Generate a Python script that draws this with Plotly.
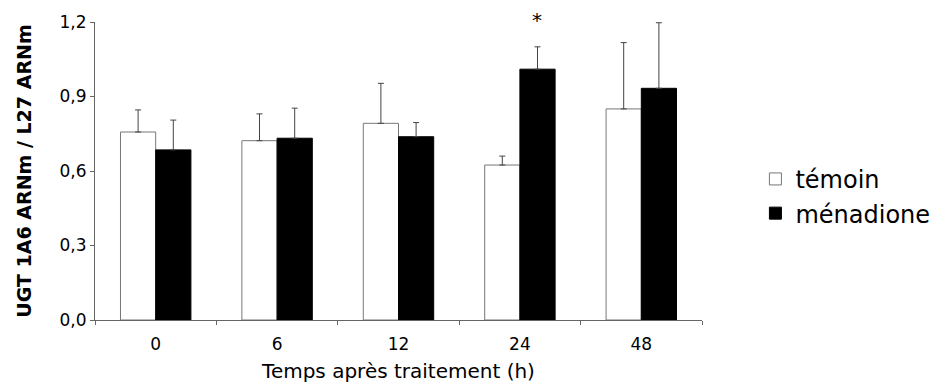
import plotly.graph_objects as go

categories = ["0", "6", "12", "24", "48"]
temoin = [0.757, 0.722, 0.792, 0.624, 0.850]
temoin_err = [0.089, 0.108, 0.161, 0.036, 0.267]
menadione = [0.685, 0.732, 0.738, 1.010, 0.933]
menadione_err = [0.120, 0.121, 0.057, 0.090, 0.264]

FONT = "DejaVu Sans, Arial, sans-serif"

fig = go.Figure()
fig.add_trace(go.Bar(
    x=categories, y=temoin, name="témoin",
    marker=dict(color="white", line=dict(color="#777", width=1)),
    error_y=dict(type="data", array=temoin_err, symmetric=False, arrayminus=[0]*5,
                 color="#444", thickness=1, width=3),
))
fig.add_trace(go.Bar(
    x=categories, y=menadione, name="ménadione",
    marker=dict(color="black", line=dict(color="black", width=1)),
    error_y=dict(type="data", array=menadione_err, symmetric=False, arrayminus=[0]*5,
                 color="#444", thickness=1, width=3),
))

fig.add_annotation(x=categories.index("24"), xref="x", y=1.0, yref="paper",
                   yanchor="middle", yshift=2, text="*", showarrow=False, xshift=17,
                   font=dict(size=20, color="black", family=FONT))

fig.update_layout(
    width=950, height=392,
    margin=dict(l=87, r=256, t=14, b=80),
    plot_bgcolor="white", paper_bgcolor="white",
    barmode="group", bargap=0.42, bargroupgap=0,
    separators=",.",
    font=dict(family=FONT, size=17, color="black"),
    showlegend=True,
    legend=dict(x=1.088, y=0.415, xanchor="left", yanchor="middle",
                font=dict(size=24), bgcolor="rgba(0,0,0,0)", tracegroupgap=0,
                itemwidth=30),
    xaxis=dict(type="category", range=[-0.5, 4.5], showline=True, linecolor="#666", linewidth=1,
               ticks="outside", tickson="boundaries", ticklen=4, tickcolor="#666",
               showgrid=False, tickangle=0, tickfont=dict(size=17), automargin=False,
               ticklabelstandoff=9,
               title=dict(text="Temps après traitement (h)", font=dict(size=20), standoff=10)),
    yaxis=dict(range=[0, 1.2], tickvals=[0, 0.3, 0.6, 0.9, 1.2], tickformat=".1f",
               showline=True, linecolor="#666", linewidth=1, ticks="outside",
               ticklen=4, tickcolor="#666", showgrid=False, zeroline=False,
               tickfont=dict(size=17), automargin=False,
               title=dict(text="<b>UGT 1A6 ARNm / L27 ARNm</b>", font=dict(size=19), standoff=22)),
)

fig.write_html("out.html")
